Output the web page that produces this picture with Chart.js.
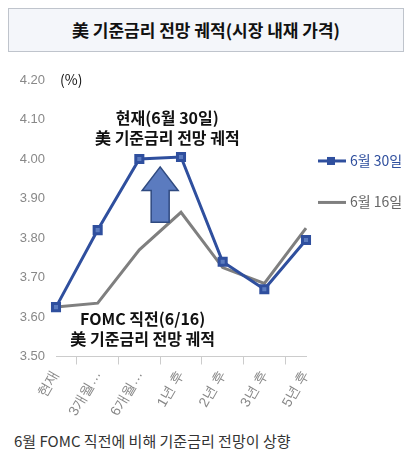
<!DOCTYPE html><html><head><meta charset="utf-8">
<script src="https://cdn.jsdelivr.net/npm/chart.js@4"></script>
<style>body{margin:0;background:#fff;font-family:"Noto Sans CJK KR";}
#t{position:absolute;left:8px;top:8px;width:396px;height:44px;border:1px solid #bfc4cc;background:#f4f6fa;box-sizing:border-box;text-align:center;font:bold 17px "Noto Sans CJK KR";line-height:42px;color:#111}
#w{position:absolute;left:0;top:62px;width:414px;height:360px}
#f{position:absolute;left:14px;top:430px;font:15px "Noto Sans CJK KR";color:#333}</style></head><body>
<div id="t">美 기준금리 전망 궤적(시장 내재 가격)</div>
<div id="w"><canvas id="c"></canvas></div>
<div id="f">6월 FOMC 직전에 비해 기준금리 전망이 상향</div>
<script>
const categories=["현재","3개월…","6개월…","1년 후","2년 후","3년 후","5년 후"];
const jun30=[3.625,3.82,4.00,4.005,3.74,3.67,3.795];
const jun16=[3.625,3.635,3.77,3.865,3.725,3.685,3.825];
const seriesNames=["6월 30일","6월 16일"];
const BLUE="#2f4f9e",GRAY="#7f7f7f";
const deco={id:"deco",afterDatasetsDraw(ch){const c=ch.ctx,x=ch.scales.x,y=ch.scales.y;
c.save();c.font='14px "Noto Sans CJK KR"';c.fillStyle="#111";c.textAlign="left";c.fillText("(%)",x.left+4,y.getPixelForValue(4.2)+5);
c.font='bold 16px "Noto Sans CJK KR"';c.textAlign="center";
c.fillText("현재(6월 30일)",x.getPixelForValue(2)+28,y.getPixelForValue(4.1)+5);
c.fillText("美 기준금리 전망 궤적",x.getPixelForValue(2)+28,y.getPixelForValue(4.1)+25);
c.fillText("FOMC 직전(6/16)",x.getPixelForValue(1)+45,y.getPixelForValue(3.6)+8);
c.fillText("美 기준금리 전망 궤적",x.getPixelForValue(1)+45,y.getPixelForValue(3.6)+28);
const cx=(x.getPixelForValue(2)+x.getPixelForValue(3))/2,top=y.getPixelForValue(3.98),bot=y.getPixelForValue(3.84),mid=y.getPixelForValue(3.92);
c.beginPath();c.moveTo(cx,top);c.lineTo(cx+18,mid);c.lineTo(cx+9,mid);c.lineTo(cx+9,bot);c.lineTo(cx-9,bot);c.lineTo(cx-9,mid);c.lineTo(cx-18,mid);c.closePath();
c.fillStyle="#5b7bbf";c.fill();c.strokeStyle="#2f4a80";c.lineWidth=1.5;c.stroke();
const lx=x.right+22;[[BLUE,seriesNames[0],y.getPixelForValue(3.995),true],[GRAY,seriesNames[1],y.getPixelForValue(3.89),false]].forEach(([col,t,py,m])=>{
c.strokeStyle=col;c.lineWidth=3;c.beginPath();c.moveTo(lx-10,py);c.lineTo(lx+18,py);c.stroke();
if(m){c.fillStyle=col;c.fillRect(lx-1,py-4,8,8);}
c.fillStyle=col==BLUE?BLUE:"#666";c.font='14px "Noto Sans CJK KR"';c.textAlign="left";c.fillText(t,lx+22,py+5);});
c.restore();}};
new Chart(document.getElementById("c"),{type:"line",data:{labels:categories,datasets:[
{label:seriesNames[0],data:jun30,borderColor:BLUE,backgroundColor:"#5b7bbf",borderWidth:3,pointStyle:"rect",pointRadius:5,tension:0},
{label:seriesNames[1],data:jun16,borderColor:GRAY,borderWidth:3,pointRadius:0,tension:0}]},
options:{responsive:true,maintainAspectRatio:false,animation:false,layout:{padding:{left:4,right:108,top:18}},
plugins:{legend:{display:false},tooltip:{enabled:false}},
scales:{y:{min:3.5,max:4.2,afterFit:s=>{s.width=52},ticks:{stepSize:0.1,color:"#888",font:{size:13},callback:v=>v.toFixed(2)},grid:{display:false},border:{display:false}},
x:{grid:{display:true,drawOnChartArea:false,tickLength:8,color:"#ccc",offset:true},border:{color:"#ccc"},ticks:{color:"#888",font:{size:14},maxRotation:60,minRotation:60}}}},plugins:[deco]});
</script></body></html>
